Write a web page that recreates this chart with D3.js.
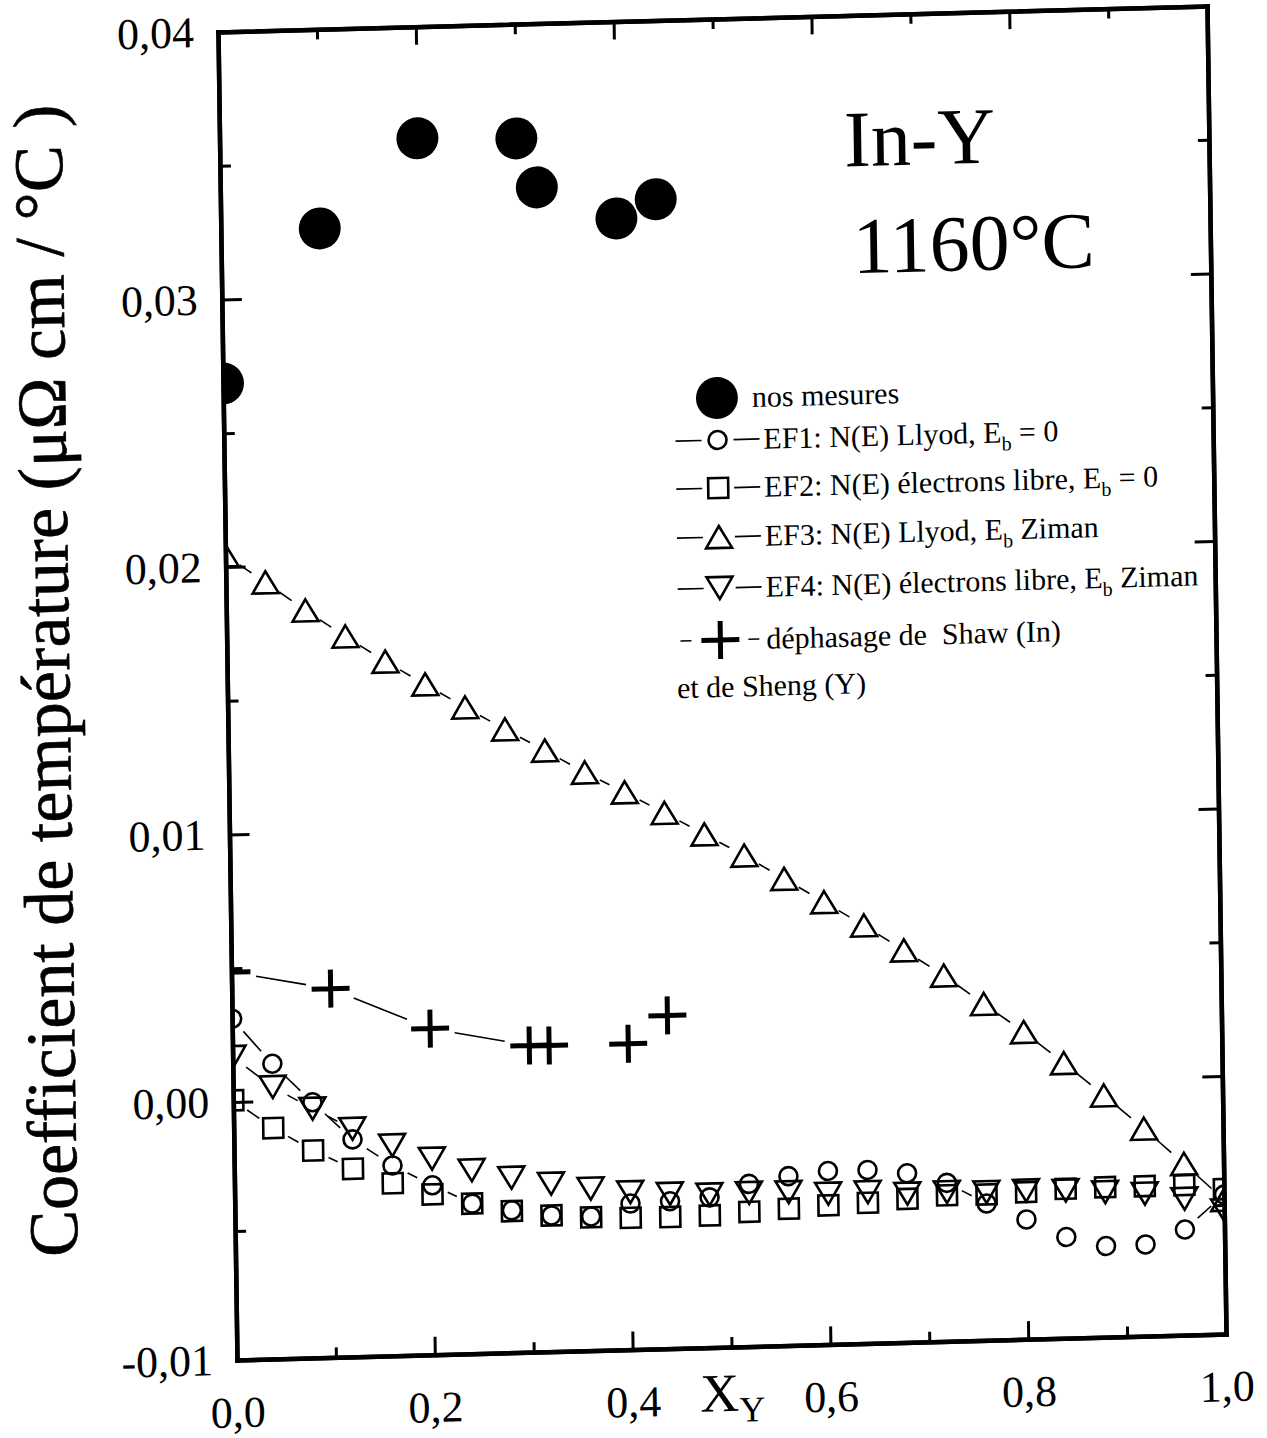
<!DOCTYPE html>
<html>
<head>
<meta charset="utf-8">
<script src="https://cdn.jsdelivr.net/npm/d3@7"></script>
<style>
  body { margin: 0; background: #fff; }
  svg { display: block; }
</style>
</head>
<body>
<svg id="chart" width="1267" height="1438"></svg>
<script>
// composition grid used by the four EF curves
const xGrid = [0, 0.04, 0.08, 0.12, 0.16, 0.20, 0.24, 0.28, 0.32, 0.36, 0.40, 0.44, 0.48,
    0.52, 0.56, 0.60, 0.64, 0.68, 0.72, 0.76, 0.80, 0.84, 0.88, 0.92, 0.96, 1.0]

const ef1 = [0.00311, 0.00139, -0.00009, -0.00157, -0.00262, -0.00343, -0.00418, -0.00448, -0.00472,
    -0.00480, -0.00434, -0.00429, -0.00418, -0.00370, -0.00344, -0.00328, -0.00328, -0.00345,
    -0.00386, -0.00470, -0.00536, -0.00608, -0.00647, -0.00645, -0.00591, -0.00460]
const ef2 = [0.00006, -0.00105, -0.00196, -0.00271, -0.00331, -0.00378, -0.00418, -0.00451, -0.00472,
    -0.00483, -0.00489, -0.00490, -0.00488, -0.00478, -0.00470, -0.00461, -0.00455, -0.00444,
    -0.00434, -0.00435, -0.00430, -0.00421, -0.00419, -0.00419, -0.00419, -0.00438]
const ef3 = [0.02043, 0.01939, 0.01830, 0.01729, 0.01631, 0.01542, 0.01452, 0.01366, 0.01283,
    0.01197, 0.01119, 0.01038, 0.00954, 0.00871, 0.00780, 0.00689, 0.00598, 0.00501, 0.00403,
    0.00293, 0.00184, 0.00064, -0.00063, -0.00196, -0.00336, -0.00480]
const ef4 = [0.00168, 0.00052, -0.00034, -0.00116, -0.00184, -0.00240, -0.00289, -0.00322, -0.00349,
    -0.00372, -0.00390, -0.00400, -0.00407, -0.00405, -0.00406, -0.00416, -0.00414, -0.00424,
    -0.00422, -0.00426, -0.00424, -0.00428, -0.00438, -0.00448, -0.00472, -0.00520]

// nos mesures
const mesX = [0, 0.10, 0.20, 0.30, 0.32, 0.40, 0.44]
const mesY = [0.02686, 0.03256, 0.03583, 0.03573, 0.03388, 0.03264, 0.03332]

// dephasage Shaw / Sheng (only the first four are joined)
const shawX = [0, 0.10, 0.20, 0.30, 0.32, 0.40, 0.44]
const shawY = [0.00485, 0.00414, 0.00255, 0.00182, 0.00180, 0.00179, 0.00281]
const shawJoined = 4

const yMajor = [-0.01, 0, 0.01, 0.02, 0.03, 0.04]
const yMinor = [-0.005, 0.005, 0.015, 0.025, 0.035]
const xMajor = [0, 0.2, 0.4, 0.6, 0.8, 1.0]
const xMinor = [0.1, 0.3, 0.5, 0.7, 0.9]

const legendLabels = [
    ["nos mesures"],
    ["EF1: N(E) Llyod, E", "b", " = 0"],
    ["EF2: N(E) électrons libre, E", "b", " = 0"],
    ["EF3: N(E) Llyod, E", "b", " Ziman"],
    ["EF4: N(E) électrons libre, E", "b", " Ziman"],
    ["déphasage de\u00a0 Shaw (In)"],
]

const W = 990, H = 1328
const font = "'Liberation Serif', 'Times New Roman', serif"

let svg = d3.select("#chart")
svg.append("rect").attr("width", 1267).attr("height", 1438).attr("fill", "#fff")

/* the scan is slightly tilted, so the whole plot sits in a skewed frame */
let g = svg.append("g")
    .attr("transform", "matrix(0.999,-0.0263,0.0143,1,218,32)")

let x = d3.scaleLinear().domain([0, 1]).range([0, W])
let y = d3.scaleLinear().domain([0.04, 0, -0.01]).range([0, 1070, H])

const loc = d3.formatLocale({ decimal: ",", thousands: ".", grouping: [3], currency: ["", ""], minus: "-" })
const fy = loc.format(".2f")
const fx = loc.format(".1f")

g.append("clipPath").attr("id", "plotclip")
    .append("rect").attr("width", W).attr("height", H)

/* axes */
function styleAxis(sel) {
    sel.attr("font-family", font).attr("font-size", 44)
    sel.selectAll(".domain").attr("stroke-width", 4.5).attr("stroke-linecap", "square")
    sel.selectAll(".tick line").attr("stroke-width", 3)
    sel.selectAll(".tick text").attr("fill", "#000")
}

g.append("g").call(d3.axisLeft(y).tickValues(yMajor).tickSize(-20).tickSizeOuter(0)
    .tickPadding(24).tickFormat(fy)).call(styleAxis)
g.append("g").call(d3.axisLeft(y).tickValues(yMinor).tickSize(-11).tickSizeOuter(0)
    .tickFormat("")).call(styleAxis)
g.append("g").attr("transform", `translate(${W},0)`)
    .call(d3.axisRight(y).tickValues(yMajor).tickSize(-20).tickSizeOuter(0).tickFormat("")).call(styleAxis)
g.append("g").attr("transform", `translate(${W},0)`)
    .call(d3.axisRight(y).tickValues(yMinor).tickSize(-11).tickSizeOuter(0).tickFormat("")).call(styleAxis)

g.append("g").attr("transform", `translate(0,${H})`)
    .call(d3.axisBottom(x).tickValues(xMajor).tickSize(-18).tickSizeOuter(0)
        .tickPadding(36).tickFormat(fx)).call(styleAxis)
g.append("g").attr("transform", `translate(0,${H})`)
    .call(d3.axisBottom(x).tickValues(xMinor).tickSize(-10).tickSizeOuter(0).tickFormat("")).call(styleAxis)
g.append("g")
    .call(d3.axisTop(x).tickValues(xMajor).tickSize(-18).tickSizeOuter(0).tickFormat("")).call(styleAxis)
g.append("g")
    .call(d3.axisTop(x).tickValues(xMinor).tickSize(-10).tickSizeOuter(0).tickFormat("")).call(styleAxis)

// axis titles
g.append("text")
    .attr("transform", "translate(-158,644) rotate(-90)")
    .attr("text-anchor", "middle")
    .attr("font-family", font).attr("font-size", 70)
    .attr("stroke", "#000").attr("stroke-width", 0.6)
    .text("Coefficient de température (μΩ cm / °C )")

let xt = g.append("text")
    .attr("x", 463).attr("y", 1392)
    .attr("font-family", font).attr("font-size", 54)
xt.append("tspan").text("X")
xt.append("tspan").attr("dy", 11).attr("font-size", 36).text("Y")

g.append("text").attr("x", 625).attr("y", 151)
    .attr("font-family", font).attr("font-size", 80).text("In-Y")
g.append("text").attr("x", 632).attr("y", 258)
    .attr("font-family", font).attr("font-size", 80).text("1160°C")

/* markers */
function addMarker(sel, type) {
    if (type === "circle") {
        sel.append("circle").attr("r", 9)
    } else if (type === "square") {
        sel.append("rect").attr("x", -10).attr("y", -10).attr("width", 20).attr("height", 20)
    } else if (type === "up") {
        sel.append("path").attr("d", "M0,-11L13,11L-13,11Z")
    } else if (type === "down") {
        sel.append("path").attr("d", "M0,11L13,-11L-13,-11Z")
    } else if (type === "plus") {
        sel.append("path").attr("d", "M-19,0H19M0,-19V19").attr("stroke-width", 5)
    } else if (type === "dot") {
        sel.append("circle").attr("r", 21).attr("fill", "#000").attr("stroke", "none")
    }
}

// line between markers, leaving a gap around each marker
function gapLine(parent, pts, gap) {
    for (let i = 0; i < pts.length - 1; i++) {
        let p = pts[i], q = pts[i + 1]
        let dx = q[0] - p[0], dy = q[1] - p[1]
        let d = Math.sqrt(dx * dx + dy * dy)
        if (d - 2 * gap < 10) continue
        let ux = dx / d, uy = dy / d
        parent.append("line")
            .attr("x1", p[0] + ux * gap).attr("y1", p[1] + uy * gap)
            .attr("x2", q[0] - ux * gap).attr("y2", q[1] - uy * gap)
            .attr("stroke", "#000").attr("stroke-width", 1.6)
    }
}

let plot = g.append("g").attr("clip-path", "url(#plotclip)")

const efSeries = [
    { vals: ef1, type: "circle" },
    { vals: ef2, type: "square" },
    { vals: ef3, type: "up" },
    { vals: ef4, type: "down" },
]

efSeries.forEach(s => {
    let pts = xGrid.map((xv, i) => [x(xv), y(s.vals[i])])
    gapLine(plot, pts, 17)
})
gapLine(plot, shawX.slice(0, shawJoined).map((xv, i) => [x(xv), y(shawY[i])]), 25)

efSeries.forEach(s => {
    plot.append("g")
        .attr("fill", "none").attr("stroke", "#000").attr("stroke-width", 2.6)
        .selectAll("g")
        .data(xGrid.map((xv, i) => ({ x: xv, y: s.vals[i] })))
        .enter().append("g")
        .attr("transform", d => `translate(${x(d.x)},${y(d.y)})`)
        .each(function () { addMarker(d3.select(this), s.type) })
})

plot.append("g").attr("fill", "none").attr("stroke", "#000")
    .selectAll("g")
    .data(shawX.map((xv, i) => ({ x: xv, y: shawY[i] })))
    .enter().append("g")
    .attr("transform", d => `translate(${x(d.x)},${y(d.y)})`)
    .each(function () { addMarker(d3.select(this), "plus") })

plot.append("g")
    .selectAll("g")
    .data(mesX.map((xv, i) => ({ x: xv, y: mesY[i] })))
    .enter().append("g")
    .attr("transform", d => `translate(${x(d.x)},${y(d.y)})`)
    .each(function () { addMarker(d3.select(this), "dot") })

/* legend */
const legendTypes = ["dot", "circle", "square", "up", "down", "plus"]
const rowY = [379, 421, 469, 518, 569, 621]
let leg = g.append("g").attr("font-family", font).attr("font-size", 30)

legendLabels.forEach((parts, i) => {
    let row = leg.append("g").attr("transform", `translate(494,${rowY[i]})`)
    let type = legendTypes[i]
    if (type === "plus") {
        row.append("line").attr("x1", -40).attr("x2", -29).attr("stroke", "#000").attr("stroke-width", 1.6)
        row.append("line").attr("x1", 28).attr("x2", 39).attr("stroke", "#000").attr("stroke-width", 1.6)
    } else if (type !== "dot") {
        row.append("line").attr("x1", -42).attr("x2", -16).attr("stroke", "#000").attr("stroke-width", 1.6)
        row.append("line").attr("x1", 16).attr("x2", 42).attr("stroke", "#000").attr("stroke-width", 1.6)
    }
    let mk = row.append("g").attr("fill", "none").attr("stroke", "#000").attr("stroke-width", 2.6)
    addMarker(mk, type)

    let tx = row.append("text").attr("x", type === "dot" ? 35 : 46).attr("y", 10)
        .attr("xml:space", "preserve")
    tx.append("tspan").text(parts[0])
    if (parts.length > 1) {
        tx.append("tspan").attr("dy", 8).attr("font-size", 20).text(parts[1])
        tx.append("tspan").attr("dy", -8).text(parts[2])
    }
})
leg.append("text").attr("x", 450).attr("y", 678).text("et de Sheng (Y)")
</script>
</body>
</html>
